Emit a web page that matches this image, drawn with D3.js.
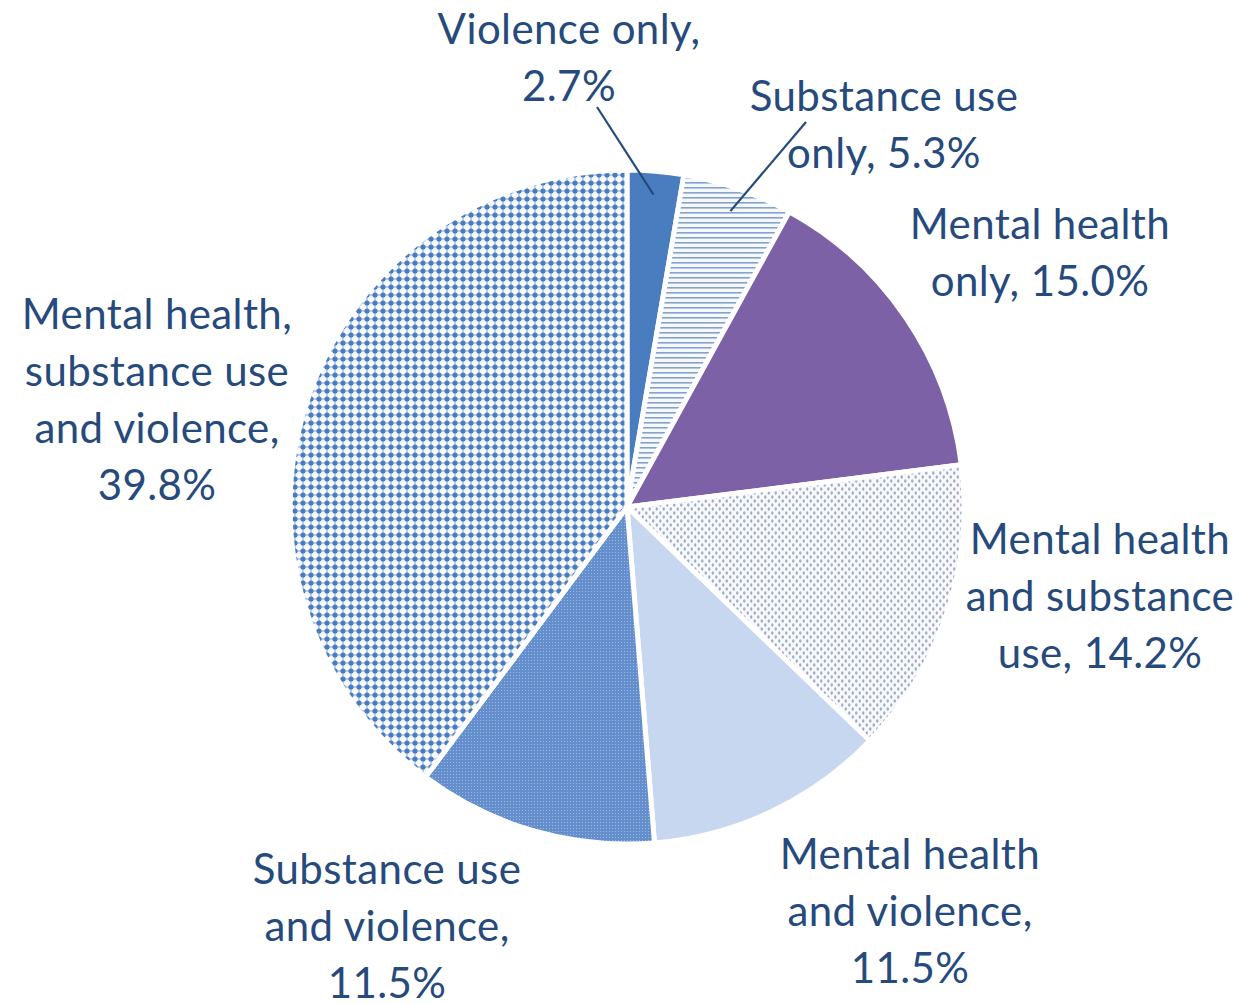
<!DOCTYPE html>
<html>
<head>
<meta charset="utf-8">
<script src="https://cdn.jsdelivr.net/npm/d3@7"></script>
<style>
  html, body { margin: 0; padding: 0; background: #fff; }
  svg { display: block; }
  .label { font-family: Lato, "Open Sans", sans-serif; font-size: 42px; letter-spacing: 0.4px; fill: #264a7c; }
</style>
</head>
<body>
<svg id="chart" width="1245" height="1004"></svg>
<script>
// slice names, in clockwise order from 12 o'clock
const categories = [
  "Violence only",
  "Substance use only",
  "Mental health only",
  "Mental health and substance use",
  "Mental health and violence",
  "Substance use and violence",
  "Mental health, substance use and violence"
];
const shares = [2.7, 5.3, 15.0, 14.2, 11.5, 11.5, 39.8];

// label lines for each slice
const labelLines = [
  ["Violence only,", "2.7%"],
  ["Substance use", "only, 5.3%"],
  ["Mental health", "only, 15.0%"],
  ["Mental health", "and substance", "use, 14.2%"],
  ["Mental health", "and violence,", "11.5%"],
  ["Substance use", "and violence,", "11.5%"],
  ["Mental health,", "substance use", "and violence,", "39.8%"]
];

const width = 1245, height = 1004;
const cx = 627, cy = 507, radius = 337;
const lineH = 57;

// where each label block sits (centre x, first baseline)
const labelPos = [
  [569, 44], [884, 111], [1040, 239], [1100, 554],
  [910, 869], [387, 884], [157, 329]
];

const svg = d3.select('#chart');
const defs = svg.append('defs');

// horizontal stripes
let p = defs.append('pattern').attr('id', 'pat-hlines')
  .attr('patternUnits', 'userSpaceOnUse').attr('width', 6).attr('height', 5);
p.append('rect').attr('width', 6).attr('height', 5).attr('fill', '#f5f8fd');
p.append('rect').attr('y', 0).attr('width', 6).attr('height', 1.6).attr('fill', '#86a2cb');

// sparse grey dots
p = defs.append('pattern').attr('id', 'pat-dots')
  .attr('patternUnits', 'userSpaceOnUse').attr('width', 7).attr('height', 8);
p.append('rect').attr('width', 7).attr('height', 8).attr('fill', '#f7f9fd');
p.append('ellipse').attr('cx', 1.75).attr('cy', 2).attr('rx', 1.2).attr('ry', 1.8).attr('fill', '#9daac2');
p.append('ellipse').attr('cx', 5.25).attr('cy', 6).attr('rx', 1.2).attr('ry', 1.8).attr('fill', '#9daac2');

// fine mesh on medium blue
p = defs.append('pattern').attr('id', 'pat-fine')
  .attr('patternUnits', 'userSpaceOnUse').attr('width', 3).attr('height', 3);
p.append('rect').attr('width', 3).attr('height', 3).attr('fill', '#658fcc');
p.append('rect').attr('width', 1).attr('height', 1).attr('fill', '#9bb7e2');

// big dot grid
p = defs.append('pattern').attr('id', 'pat-grid')
  .attr('patternUnits', 'userSpaceOnUse').attr('width', 8).attr('height', 8);
p.append('rect').attr('width', 8).attr('height', 8).attr('fill', '#f7faff');
p.append('rect').attr('x', 3).attr('width', 2).attr('height', 8).attr('fill', '#bcd0ec');
p.append('rect').attr('y', 3).attr('width', 8).attr('height', 2).attr('fill', '#bcd0ec');
p.append('circle').attr('cx', 4).attr('cy', 4).attr('r', 2.6).attr('fill', '#4b7bbd');

const fills = [
  '#4a7dc0', 'url(#pat-hlines)', '#7d61a7', 'url(#pat-dots)',
  '#c6d7ef', 'url(#pat-fine)', 'url(#pat-grid)'
];

const pie = d3.pie().sort(null).value(d => d);
const arcs = pie(shares);
const arc = d3.arc().innerRadius(0).outerRadius(radius);

const g = svg.append('g').attr('transform', `translate(${cx},${cy})`);
g.selectAll('path.slice')
  .data(arcs).enter()
  .append('path')
  .attr('class', 'slice')
  .attr('d', arc)
  .attr('fill', (d, i) => fills[i])
  .attr('stroke', '#fff')
  .attr('stroke-width', 5)
  .attr('stroke-linejoin', 'round');

// leader lines for the two thin slices
const leaderArc = d3.arc().innerRadius(radius * 0.93).outerRadius(radius * 0.93);
const leaders = [
  { i: 0, from: [597 - cx, 107 - cy] },
  { i: 1, from: [806 - cx, 122 - cy] }
];
g.selectAll('line.leader')
  .data(leaders).enter()
  .append('line')
  .attr('class', 'leader')
  .attr('x1', d => d.from[0]).attr('y1', d => d.from[1])
  .attr('x2', d => leaderArc.centroid(arcs[d.i])[0])
  .attr('y2', d => leaderArc.centroid(arcs[d.i])[1])
  .attr('stroke', '#264a7c').attr('stroke-width', 2.2);

// labels
const labels = svg.append('g');
labelLines.forEach((lines, i) => {
  const t = labels.append('text')
    .attr('class', 'label')
    .attr('text-anchor', 'middle')
    .attr('x', labelPos[i][0])
    .attr('y', labelPos[i][1]);
  lines.forEach((s, k) => {
    t.append('tspan')
      .attr('x', labelPos[i][0])
      .attr('dy', k === 0 ? 0 : lineH)
      .text(s);
  });
});
</script>
</body>
</html>
